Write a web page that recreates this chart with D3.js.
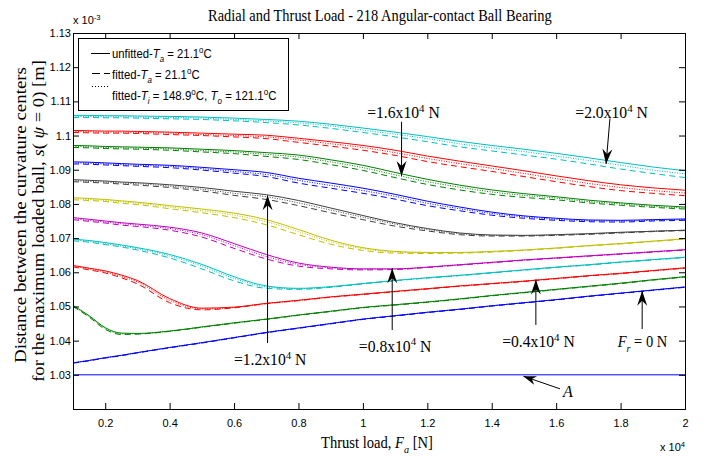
<!DOCTYPE html>
<html><head><meta charset="utf-8">
<script src="https://cdn.jsdelivr.net/npm/d3@7"></script>
<style>body{margin:0;background:#fff;} svg{display:block}</style>
</head><body><svg id="c" width="705" height="456"></svg>
<script>
// ---------------- DATA ----------------
const thrustLoad = [0.1,0.15,0.2,0.25,0.3,0.4,0.5,0.6,0.7,0.8,0.9,1.0,1.1,1.2,1.3,1.4,1.5,1.6,1.7,1.8,1.9,2.0];
const radialLoadLabels = ["0","0.2","0.4","0.6","0.8","1.0","1.2","1.4","1.6","1.8","2.0"];
const xTickValues = [0.2,0.4,0.6,0.8,1.0,1.2,1.4,1.6,1.8,2.0];
const yTickValues = [1.03,1.04,1.05,1.06,1.07,1.08,1.09,1.10,1.11,1.12,1.13];
const lineA = 1.03;

// unfitted, T_a = 21.1 C   (units: x10^-3 m)
const unfitted_Fr00 = [1.0335,1.0342,1.0350,1.0357,1.0365,1.0380,1.0394,1.0409,1.0424,1.0437,1.0450,1.0463,1.0473,1.0483,1.0492,1.0502,1.0511,1.0520,1.0530,1.0539,1.0548,1.0557];
const unfitted_Fr02 = [1.0503,1.0473,1.0438,1.0422,1.0421,1.0428,1.0440,1.0452,1.0463,1.0475,1.0486,1.0497,1.0505,1.0513,1.0522,1.0532,1.0541,1.0550,1.0559,1.0568,1.0578,1.0587];
const unfitted_Fr04 = [1.0620,1.0612,1.0604,1.0592,1.0576,1.0523,1.0495,1.0498,1.0509,1.0518,1.0528,1.0536,1.0544,1.0552,1.0560,1.0567,1.0574,1.0582,1.0590,1.0597,1.0605,1.0613];
const unfitted_Fr06 = [1.0697,1.0693,1.0687,1.0680,1.0672,1.0652,1.0623,1.0587,1.0560,1.0553,1.0558,1.0567,1.0576,1.0584,1.0591,1.0599,1.0607,1.0615,1.0622,1.0630,1.0637,1.0644];
const unfitted_Fr08 = [1.0760,1.0755,1.0750,1.0745,1.0741,1.0732,1.0715,1.0684,1.0652,1.0627,1.0615,1.0610,1.0610,1.0615,1.0622,1.0629,1.0636,1.0642,1.0648,1.0654,1.0660,1.0666];
const unfitted_Fr10 = [1.0818,1.0816,1.0813,1.0809,1.0805,1.0795,1.0785,1.0773,1.0754,1.0725,1.0694,1.0672,1.0661,1.0658,1.0658,1.0661,1.0665,1.0671,1.0678,1.0684,1.0691,1.0698];
const unfitted_Fr12 = [1.0871,1.0869,1.0867,1.0864,1.0862,1.0856,1.0848,1.0837,1.0827,1.0810,1.0788,1.0766,1.0745,1.0728,1.0715,1.0709,1.0708,1.0710,1.0713,1.0717,1.0720,1.0723];
const unfitted_Fr14 = [1.0923,1.0922,1.0920,1.0918,1.0916,1.0913,1.0907,1.0900,1.0892,1.0875,1.0861,1.0846,1.0828,1.0808,1.0791,1.0776,1.0765,1.0758,1.0753,1.0752,1.0754,1.0756];
const unfitted_Fr16 = [1.0971,1.0970,1.0968,1.0967,1.0966,1.0964,1.0960,1.0956,1.0950,1.0943,1.0929,1.0913,1.0892,1.0872,1.0855,1.0841,1.0830,1.0821,1.0811,1.0803,1.0796,1.0791];
const unfitted_Fr18 = [1.1015,1.1014,1.1013,1.1013,1.1012,1.1010,1.1007,1.1004,1.1001,1.0992,1.0982,1.0971,1.0957,1.0940,1.0925,1.0911,1.0897,1.0882,1.0868,1.0856,1.0847,1.0840];
const unfitted_Fr20 = [1.1059,1.1059,1.1058,1.1058,1.1057,1.1056,1.1054,1.1051,1.1047,1.1042,1.1033,1.1022,1.1010,1.0997,1.0983,1.0971,1.0960,1.0948,1.0935,1.0921,1.0908,1.0897];

// read-off drop of the fitted curves below the unfitted ones (units: 1e-4 x10^-3 m)
// fitted T_a = 21.1 C (dashed)
const fitTaDrop_Fr00 = [1,1,1,1,1,1,1,1,1,1,1,1,1,1,1,1,1,1,1,1,1,1];
const fitTaDrop_Fr02 = [3,4,5,4,2,1,1,1,1,1,1,1,1,1,1,1,1,1,1,1,1,1];
const fitTaDrop_Fr04 = [4,5,6,8,10,12,5,2,1,1,1,1,1,1,1,1,1,1,1,1,1,1];
const fitTaDrop_Fr06 = [5,5,6,6,7,10,13,12,7,3,2,1,1,1,1,1,1,1,1,1,1,1];
const fitTaDrop_Fr08 = [6,6,6,7,7,9,12,14,13,9,5,3,2,1,1,1,1,1,1,1,1,1];
const fitTaDrop_Fr10 = [6,6,6,7,7,9,11,13,15,15,12,8,5,3,2,2,1,1,1,1,1,1];
const fitTaDrop_Fr12 = [6,6,6,6,7,8,10,12,14,15,14,12,10,7,5,3,2,2,2,2,1,1];
const fitTaDrop_Fr14 = [6,6,6,6,6,7,8,10,12,14,15,15,14,13,11,9,7,6,5,5,4,4];
const fitTaDrop_Fr16 = [6,6,6,6,6,7,8,9,11,13,14,15,15,15,14,13,11,9,8,7,6,6];
const fitTaDrop_Fr18 = [6,6,6,6,6,7,7,8,10,12,13,14,15,16,16,16,17,17,17,17,16,16];
const fitTaDrop_Fr20 = [6,6,6,6,6,7,7,8,9,11,12,13,14,15,16,16,17,17,18,19,19,20];
// fitted T_i = 148.9 C, T_o = 121.1 C (dotted)
const fitHotDrop_Fr00 = [0,0,0,0,0,0,0,0,0,0,0,0,0,0,0,0,0,0,0,0,0,0];
const fitHotDrop_Fr02 = [1,2,2,2,1,0,0,0,0,0,0,0,0,0,0,0,0,0,0,0,0,0];
const fitHotDrop_Fr04 = [2,2,3,4,4,5,2,1,0,0,0,0,0,0,0,0,0,0,0,0,0,0];
const fitHotDrop_Fr06 = [2,2,3,3,3,4,5,5,3,1,1,0,0,0,0,0,0,0,0,0,0,0];
const fitHotDrop_Fr08 = [3,3,3,3,3,4,5,6,6,4,2,1,1,0,0,0,0,0,0,0,0,0];
const fitHotDrop_Fr10 = [3,3,3,3,3,4,5,6,6,6,5,3,2,1,1,1,0,0,0,0,0,0];
const fitHotDrop_Fr12 = [3,3,3,3,3,4,5,6,6,7,6,5,4,3,2,1,1,1,1,1,0,0];
const fitHotDrop_Fr14 = [3,3,3,3,3,3,4,5,6,6,7,7,6,6,5,4,3,3,2,2,2,2];
const fitHotDrop_Fr16 = [3,3,3,3,3,3,4,4,5,6,6,7,7,7,6,6,5,4,4,3,3,3];
const fitHotDrop_Fr18 = [3,3,3,3,3,3,4,4,5,5,6,6,7,7,7,7,8,8,8,8,8,8];
const fitHotDrop_Fr20 = [3,3,3,3,3,3,3,4,4,5,5,6,6,6,7,7,7,8,8,8,9,9];

// ---------------- STYLE ----------------
const curveColors = ["#0000ff","#008000","#ff0000","#00bfbf","#bf00bf","#bfbf00","#404040","#0000ff","#008000","#ff0000","#00bfbf"];
const unfittedAll = [unfitted_Fr00,unfitted_Fr02,unfitted_Fr04,unfitted_Fr06,unfitted_Fr08,unfitted_Fr10,unfitted_Fr12,unfitted_Fr14,unfitted_Fr16,unfitted_Fr18,unfitted_Fr20];
const fitTaAll = [fitTaDrop_Fr00,fitTaDrop_Fr02,fitTaDrop_Fr04,fitTaDrop_Fr06,fitTaDrop_Fr08,fitTaDrop_Fr10,fitTaDrop_Fr12,fitTaDrop_Fr14,fitTaDrop_Fr16,fitTaDrop_Fr18,fitTaDrop_Fr20];
const fitHotAll = [fitHotDrop_Fr00,fitHotDrop_Fr02,fitHotDrop_Fr04,fitHotDrop_Fr06,fitHotDrop_Fr08,fitHotDrop_Fr10,fitHotDrop_Fr12,fitHotDrop_Fr14,fitHotDrop_Fr16,fitHotDrop_Fr18,fitHotDrop_Fr20];

const SANS = "'Liberation Sans', Arial, sans-serif";
const SERIF = "'Liberation Serif', 'Times New Roman', serif";

const svg = d3.select("#c");
const W = 705, H = 456;
const M = {l:73, r:685, t:33, b:409};
const x = d3.scaleLinear().domain([0.1, 2]).range([M.l, M.r]);
const y = d3.scaleLinear().domain([1.02, 1.13]).range([M.b, M.t]);

svg.append("rect").attr("width", W).attr("height", H).attr("fill", "#fff");
svg.append("defs").append("clipPath").attr("id", "pc").append("rect")
  .attr("x", M.l).attr("y", M.t).attr("width", M.r - M.l).attr("height", M.b - M.t);

const plot = svg.append("g").attr("clip-path", "url(#pc)");
const line = d3.line().x((d, i) => x(thrustLoad[i])).y(d => y(d)).curve(d3.curveMonotoneX);

unfittedAll.forEach((base, k) => {
  const dashed = base.map((v, i) => v - fitTaAll[k][i] * 1e-4);
  const dotted = base.map((v, i) => v - fitHotAll[k][i] * 1e-4);
  plot.append("path").datum(dashed).attr("d", line).attr("fill", "none")
    .attr("stroke", curveColors[k]).attr("stroke-width", 1).attr("stroke-dasharray", "6,4");
  plot.append("path").datum(dotted).attr("d", line).attr("fill", "none")
    .attr("stroke", curveColors[k]).attr("stroke-width", 1).attr("stroke-dasharray", "1,1.5");
  plot.append("path").datum(base).attr("d", line).attr("fill", "none")
    .attr("stroke", curveColors[k]).attr("stroke-width", 1);
});

// line A
plot.append("line").attr("x1", x(0.1)).attr("x2", x(2)).attr("y1", y(lineA)).attr("y2", y(lineA))
  .attr("stroke", "#0000ff").attr("stroke-width", 1);

// ---------------- AXES ----------------
const fmtX = d => String(+d.toFixed(1));
const fmtY = d => String(+d.toFixed(2));
function styleAxis(g) {
  g.select(".domain").remove();
  g.attr("font-family", SANS).attr("font-size", 11);
  g.selectAll("text").attr("fill", "#000");
}
svg.append("g").attr("transform", `translate(0,${M.b})`)
  .call(d3.axisBottom(x).tickValues(xTickValues).tickFormat(fmtX).tickSize(-6).tickPadding(10)).call(styleAxis);
svg.append("g").attr("transform", `translate(0,${M.t})`)
  .call(d3.axisTop(x).tickValues(xTickValues).tickFormat("").tickSize(-6)).call(styleAxis);
svg.append("g").attr("transform", `translate(${M.l},0)`)
  .call(d3.axisLeft(y).tickValues(yTickValues).tickFormat(fmtY).tickSize(-6).tickPadding(2)).call(styleAxis);
svg.append("g").attr("transform", `translate(${M.r},0)`)
  .call(d3.axisRight(y).tickValues(yTickValues).tickFormat("").tickSize(-6)).call(styleAxis);
svg.append("rect").attr("x", M.l + 0.5).attr("y", M.t + 0.5).attr("width", M.r - M.l).attr("height", M.b - M.t)
  .attr("fill", "none").attr("stroke", "#000").attr("stroke-width", 1);

// ---------------- TEXT HELPERS ----------------
// text is placed at the origin of its own transform; optional width target is met by a horizontal scale
function rich(parent, parts, o) {
  const t = parent.append("text").attr("x", 0).attr("y", 0)
    .attr("font-family", o.font).attr("font-size", o.size).attr("fill", "#000")
    .attr("text-anchor", o.anchor || "start");
  let shift = 0;
  parts.forEach(p => {
    const ts = t.append("tspan").text(p.t);
    const target = p.sub ? o.size * 0.3 : p.sup ? -o.size * 0.4 : 0;
    if (target !== shift) { ts.attr("dy", target - shift); shift = target; }
    if (p.i) ts.attr("font-style", "italic");
    if (p.sub || p.sup) ts.attr("font-size", o.size * 0.7);
  });
  let tr = `translate(${o.x},${o.y})` + (o.rotate ? ` rotate(${o.rotate})` : "");
  if (o.len) {
    const w = t.node().getBBox().width;
    if (w > 0) tr += ` scale(${o.len / w},1)`;
  }
  t.attr("transform", tr);
  return t;
}

// exponents
rich(svg, [{t:"x 10"},{t:"-3", sup:true}], {x:73, y:24, font:SANS, size:11});
rich(svg, [{t:"x 10"},{t:"4", sup:true}], {x:660, y:451, font:SANS, size:11});

// title
rich(svg, [{t:"Radial and Thrust Load - 218 Angular-contact Ball Bearing"}], {x:208, y:21, font:SERIF, size:16, len:344});

// x label
rich(svg, [{t:"Thrust load, "},{t:"F", i:true},{t:"a", sub:true, i:true},{t:"  [N]"}], {x:321, y:448, font:SERIF, size:16, len:112});

// y label
rich(svg, [{t:"Distance between the curvature centers"}],
  {x:25.5, y:215, rotate:-90, font:SERIF, size:17, anchor:"middle", len:296});
rich(svg, [{t:"for the maximum loaded ball,  "},{t:"s", i:true},{t:"( "},{t:"ψ", i:true},{t:" = 0)  [m]"}],
  {x:43.5, y:221, rotate:-90, font:SERIF, size:17, anchor:"middle", len:322});

// ---------------- LEGEND ----------------
const lg = svg.append("g");
lg.append("rect").attr("x", 78.5).attr("y", 38.5).attr("width", 210).attr("height", 72)
  .attr("fill", "#fff").attr("stroke", "#000").attr("stroke-width", 1);
lg.append("line").attr("x1", 91).attr("x2", 110).attr("y1", 53.5).attr("y2", 53.5).attr("stroke", "#000");
lg.append("line").attr("x1", 92).attr("x2", 110).attr("y1", 73.5).attr("y2", 73.5).attr("stroke", "#000").attr("stroke-dasharray", "8,4");
lg.append("line").attr("x1", 92).attr("x2", 108).attr("y1", 86.5).attr("y2", 86.5).attr("stroke", "#000").attr("stroke-dasharray", "1,2");
rich(lg, [{t:"unfitted-"},{t:"T", i:true},{t:"a", sub:true, i:true},{t:" = 21.1"},{t:"o", sup:true},{t:"C"}], {x:112, y:58, font:SANS, size:12, len:100});
rich(lg, [{t:"fitted-"},{t:"T", i:true},{t:"a", sub:true, i:true},{t:" = 21.1"},{t:"o", sup:true},{t:"C"}], {x:112, y:79, font:SANS, size:12, len:88});
rich(lg, [{t:"fitted-"},{t:"T", i:true},{t:"i", sub:true, i:true},{t:" = 148.9"},{t:"o", sup:true},{t:"C,  "},{t:"T", i:true},{t:"o", sub:true, i:true},{t:" = 121.1"},{t:"o", sup:true},{t:"C"}], {x:112, y:100, font:SANS, size:12, len:165});

// ---------------- ANNOTATIONS (data coordinates) ----------------
const annLabels = ["=1.6x10","=2.0x10","=1.2x10","=0.8x10","=0.4x10"];
const annTextX = [1.126, 1.772, 0.712, 1.100, 1.545];
const annTextY = [1.1051, 1.1051, 1.0329, 1.0368, 1.0381];
const annTailX = [1.120, 1.767, 0.704, 1.091, 1.537];
const annTailY = [1.1040, 1.1050, 1.0393, 1.0431, 1.0446];
const annTipX  = [1.120, 1.755, 0.704, 1.091, 1.537];
const annTipY  = [1.0882, 1.0917, 1.0825, 1.0612, 1.0579];

function arrow(x1, y1, x2, y2, L, hw, notch) {
  const a = svg.append("g");
  const px1 = x(x1), py1 = y(y1), px2 = x(x2), py2 = y(y2);
  a.append("line").attr("x1", px1).attr("y1", py1).attr("x2", px2).attr("y2", py2).attr("stroke", "#000").attr("stroke-width", 1);
  const ang = Math.atan2(py2 - py1, px2 - px1) * 180 / Math.PI;
  a.append("path").attr("d", `M0,0 L${-L},${-hw} L${-notch},0 L${-L},${hw} Z`)
    .attr("transform", `translate(${px2},${py2}) rotate(${ang})`).attr("fill", "#000");
}
annLabels.forEach((lab, i) => {
  rich(svg, [{t:lab},{t:"4", sup:true},{t:" N"}], {x:x(annTextX[i]), y:y(annTextY[i]), font:SERIF, size:16, anchor:"middle", len:73});
  arrow(annTailX[i], annTailY[i], annTipX[i], annTipY[i], 15, 5, 10);
});
// F_r = 0 N
rich(svg, [{t:"F", i:true},{t:"r", sub:true, i:true},{t:" = 0 N"}], {x:x(1.868), y:y(1.0381), font:SERIF, size:16, anchor:"middle", len:51});
arrow(1.867, 1.0434, 1.867, 1.0546, 15, 5, 10);
// A
rich(svg, [{t:"A", i:true}], {x:x(1.621), y:y(1.0235), font:SERIF, size:16});
arrow(1.612, 1.0259, 1.498, 1.0296, 13, 4.5, 9);
</script></body></html>
